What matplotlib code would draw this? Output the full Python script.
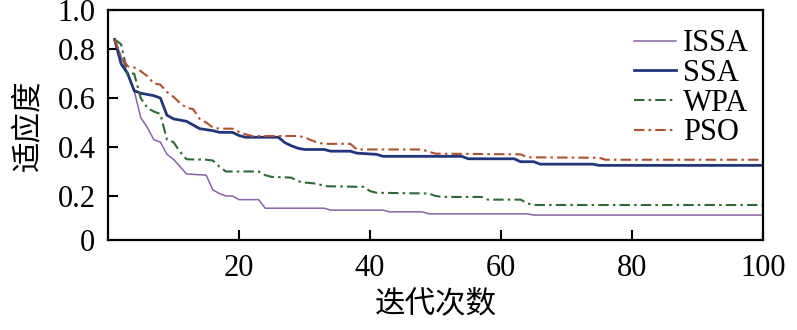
"""Convergence curves: fitness vs. iteration for ISSA, SSA, WPA and PSO."""

import matplotlib

matplotlib.use("Agg")
import matplotlib.pyplot as plt

# Breakpoints (iteration, fitness) for each algorithm.
ISSA_ITER = [1, 2, 3, 4, 5, 6, 7, 8, 9, 10, 11, 12, 15, 16, 17, 18, 19, 20, 23, 24,
             33, 34, 42, 43, 48, 49, 64, 65, 100]
ISSA_FIT = [0.84, 0.77, 0.70, 0.63, 0.52, 0.48, 0.43, 0.42, 0.37, 0.35, 0.32, 0.29,
            0.285, 0.225, 0.21, 0.20, 0.20, 0.185, 0.185, 0.15, 0.15, 0.142, 0.142,
            0.135, 0.135, 0.127, 0.127, 0.122, 0.122]

SSA_ITER = [1, 2, 3, 4, 5, 7, 8, 9, 10, 12, 13, 14, 16, 17, 19, 20, 21, 26, 27, 28,
            29, 30, 33, 34, 37, 38, 41, 42, 54, 55, 62, 63, 65, 66, 74, 75, 100]
SSA_FIT = [0.84, 0.74, 0.70, 0.63, 0.62, 0.61, 0.60, 0.53, 0.515, 0.505, 0.49, 0.475,
           0.467, 0.46, 0.46, 0.447, 0.44, 0.44, 0.418, 0.405, 0.395, 0.39, 0.39,
           0.383, 0.383, 0.375, 0.37, 0.362, 0.362, 0.352, 0.352, 0.34, 0.34, 0.33,
           0.33, 0.325, 0.325]

WPA_ITER = [1, 2, 3, 4, 5, 6, 7, 8, 9, 10, 11, 12, 15, 16, 17, 18, 23, 24, 25, 28,
            29, 30, 32, 33, 39, 40, 41, 49, 50, 51, 57, 58, 63, 64, 65, 100]
WPA_FIT = [0.84, 0.82, 0.70, 0.70, 0.60, 0.56, 0.545, 0.535, 0.43, 0.42, 0.38, 0.35,
           0.348, 0.345, 0.32, 0.30, 0.30, 0.285, 0.278, 0.275, 0.26, 0.255, 0.25,
           0.24, 0.237, 0.22, 0.213, 0.21, 0.20, 0.196, 0.196, 0.185, 0.185, 0.17,
           0.163, 0.163]

PSO_ITER = [1, 2, 3, 4, 5, 6, 7, 8, 9, 10, 11, 12, 13, 14, 15, 16, 17, 19, 20, 21,
            22, 29, 30, 31, 32, 33, 37, 38, 48, 49, 50, 63, 64, 75, 76, 100]
PSO_FIT = [0.84, 0.77, 0.73, 0.725, 0.71, 0.69, 0.66, 0.655, 0.625, 0.605, 0.58, 0.56,
           0.555, 0.515, 0.50, 0.48, 0.475, 0.475, 0.462, 0.452, 0.445, 0.445, 0.44,
           0.428, 0.418, 0.413, 0.413, 0.39, 0.39, 0.38, 0.373, 0.37, 0.358, 0.356,
           0.348, 0.348]

X_TICKS = [20, 40, 60, 80, 100]
Y_TICKS = [0.02, 0.2, 0.4, 0.6, 0.8, 0.96]
Y_TICK_LABELS = ["0", "0.2", "0.4", "0.6", "0.8", "1.0"]

SERIF = ["Liberation Serif", "DejaVu Serif"]
CJK = ["Noto Sans CJK SC", "DejaVu Sans"]

plt.rcParams["font.family"] = SERIF
plt.rcParams["font.size"] = 22

fig = plt.figure(figsize=(7.97, 3.30), dpi=100)
ax = fig.add_axes([0.1355, 0.2727, 0.8218, 0.6970])

dashdot = (0, (5, 2, 1.2, 2))
ax.plot(ISSA_ITER, ISSA_FIT, color="#8a62a6", lw=1.1, label="ISSA")
ax.plot(SSA_ITER, SSA_FIT, color="#22367c", lw=2.0, label="SSA")
ax.plot(WPA_ITER, WPA_FIT, color="#2c6a36", lw=1.5, linestyle=dashdot, label="WPA")
ax.plot(PSO_ITER, PSO_FIT, color="#b0502c", lw=1.5, linestyle=dashdot, label="PSO")

ax.set_xlim(0, 100)
ax.set_ylim(0.02, 0.96)
ax.set_xticks(X_TICKS)
ax.set_yticks(Y_TICKS)
ax.set_yticklabels(Y_TICK_LABELS)
ax.tick_params(direction="in", length=7, width=1.5, labelsize=22)
ax.tick_params(axis="x", pad=10)
ax.tick_params(axis="y", pad=9)
for spine in ax.spines.values():
    spine.set_linewidth(1.6)

ax.set_ylabel("适应度", family=CJK, fontsize=22, labelpad=10)
ax.set_xlabel("迭代次数", family=CJK, fontsize=22, labelpad=4)

ax.legend(loc="upper right", bbox_to_anchor=(1.0, 0.975), frameon=False,
          fontsize=22, handlelength=1.35, handletextpad=0.25, labelspacing=0.02,
          borderaxespad=0.05)

fig.savefig("out.png", dpi=100)
